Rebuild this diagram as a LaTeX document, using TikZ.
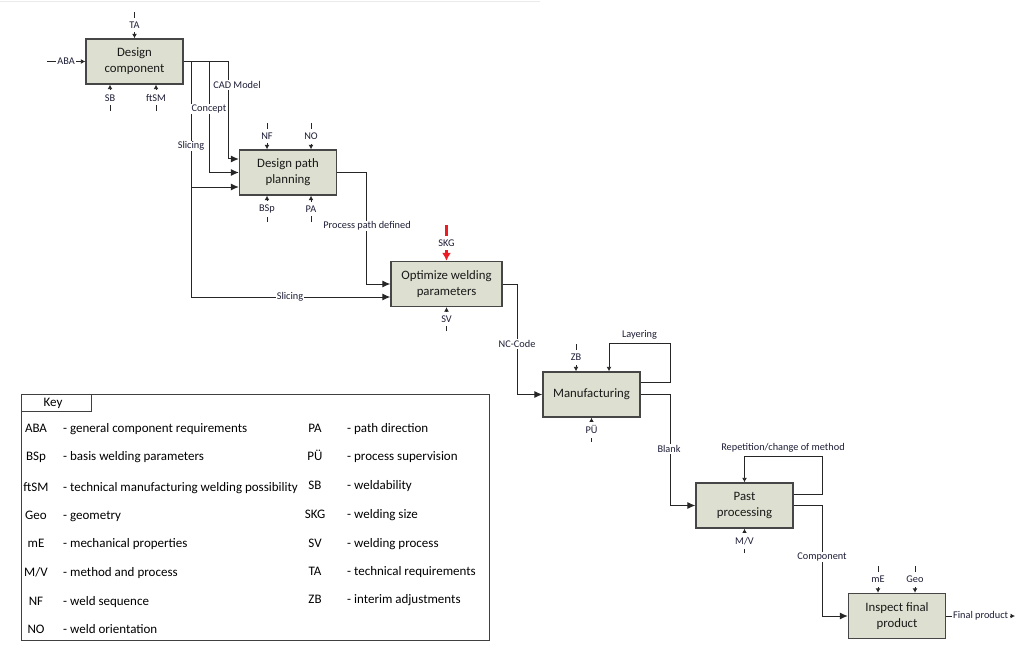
\documentclass[tikz,border=0pt]{standalone}
\usepackage{fontspec}
\setmainfont{Carlito}
\usepackage{tikz}
\usetikzlibrary{arrows.meta,positioning}
\definecolor{boxfill}{RGB}{221,224,208}
\definecolor{boxline}{RGB}{70,70,70}
\definecolor{ink}{RGB}{30,30,55}
\definecolor{skgred}{RGB}{235,28,36}

\begin{document}
\begin{tikzpicture}[x=1pt,y=-1pt,
  proc/.style={draw=boxline,line width=1.4pt,fill=boxfill,minimum width=97pt,minimum height=45pt,
    align=center,inner sep=2pt,text=black!90,font=\fontsize{12.8}{16}\selectfont},
  lbl/.style={font=\fontsize{10.3}{12}\selectfont,text=ink,fill=white,inner sep=1pt},
  clbl/.style={lbl,inner xsep=1.5pt,inner ysep=4pt},
  keytxt/.style={font=\fontsize{13}{15}\selectfont,inner sep=0pt,text height=9pt,text depth=3pt},
  flow/.style={draw=black!85,line width=1pt,-{Latex[length=8pt,width=7pt]}},
  ctrl/.style={draw=black!85,line width=1pt,-{Latex[length=4.5pt,width=5pt]}}]

\useasboundingbox (0,0) rectangle (1024,671);
\draw[black!8] (0,1) -- (540,1);

\node[proc] (dc) at (134.5,61.5) {Design\\component};
\node[proc] (dp) at (288,172.5) {Design path\\planning};
\node[proc,minimum width=111pt] (ow) at (446.5,284) {Optimize welding\\parameters};
\node[proc] (mf) at (591.5,394.5) {Manufacturing};
\node[proc] (pp) at (744.5,505.5) {Past\\processing};
\node[proc] (ip) at (897,616) {Inspect final\\product};

\coordinate (ta) at (134.5,12);
\coordinate (aba) at (47,61.5);
\coordinate (sb) at (110,111);
\coordinate (ftsm) at (156,111);
\draw[ctrl] (ta) -- node[clbl]{TA} (dc.north);
\draw[ctrl] (aba) -- node[clbl]{ABA} (dc.west);
\draw[ctrl] (sb) -- node[clbl]{SB} (sb |- dc.south);
\draw[ctrl] (ftsm) -- node[clbl]{ftSM} (ftsm |- dc.south);

\coordinate (slix) at (191,0);
\coordinate (conx) at (209,0);
\coordinate (cadx) at (228,0);
\draw[flow] (dc.east) -| ([yshift=13.5pt]dp.west -| cadx) -- ([yshift=13.5pt]dp.west);
\draw[flow] (dc.east) -| (conx |- dp.west) -- (dp.west);
\draw[flow] (dc.east) -| ([yshift=-14.5pt]dp.west -| slix) -- ([yshift=-14.5pt]dp.west);
\draw[flow] (slix |- dc.east) |- ([yshift=-13pt]ow.west);
\node[lbl] (lcad) at (237,85) {CAD Model};
\node[lbl] (lcon) at (209,109) {Concept};
\node[lbl] (lsl1) at (191,146) {Slicing};
\node[lbl] (lsl2) at (290,297) {Slicing};

\coordinate (nf) at (267,123);
\coordinate (no) at (311,123);
\coordinate (bsp) at (267,222);
\coordinate (pa) at (311,222);
\draw[ctrl] (nf) -- node[clbl]{NF} (nf |- dp.north);
\draw[ctrl] (no) -- node[clbl]{NO} (no |- dp.north);
\draw[ctrl] (bsp) -- node[clbl]{BSp} (bsp |- dp.south);
\draw[ctrl] (pa) -- node[clbl]{PA} (pa |- dp.south);

\coordinate (ppx) at (366,0);
\draw[flow] (dp.east) -| (ppx |- ow.west) -- (ow.west);
\node[lbl] (lpp) at (367,226) {Process path defined};

\coordinate (skg) at (446.5,225);
\coordinate (sv) at (446.5,331);
\draw[skgred,line width=2.5pt,-{Latex[length=8pt,width=9pt]}] (skg) -- node[clbl]{SKG} (ow.north);
\draw[ctrl] (sv) -- node[clbl]{SV} (ow.south);

\coordinate (ncx) at (517,0);
\draw[flow] (ow.east) -| (ncx |- mf.west) -- (mf.west);
\node[lbl] (lnc) at (517,344) {NC-Code};

\coordinate (zb) at (576,344);
\coordinate (pue) at (591.5,442);
\coordinate (laytop) at (670,343);
\draw[ctrl] (zb) -- node[clbl]{ZB} (zb |- mf.north);
\draw[ctrl] (pue) -- node[clbl]{PÜ} (mf.south);
\draw[ctrl] ([yshift=12.5pt]mf.east) -| (laytop) -| ([xshift=17.5pt]mf.north);
\node[lbl] (llay) at (639.5,335) {Layering};

\coordinate (blx) at (670,0);
\draw[flow] (mf.east) -| (blx |- pp.west) -- (pp.west);
\node[lbl] (lbl1) at (669,449) {Blank};

\coordinate (mv) at (744.5,553);
\coordinate (reptop) at (822,456);
\draw[ctrl] (mv) -- node[clbl]{M/V} (pp.south);
\draw[ctrl] ([yshift=11.5pt]pp.east) -| (reptop) -| (pp.north);
\node[lbl] (lrep) at (783,448) {Repetition/change of method};

\coordinate (cmx) at (822,0);
\draw[flow] (pp.east) -| (cmx |- ip.west) -- (ip.west);
\node[lbl] (lcmp) at (822,557) {Component};

\coordinate (me) at (878,566);
\coordinate (geo) at (915,566);
\coordinate (fp) at (1015,616);
\draw[ctrl] (me) -- node[clbl]{mE} (me |- ip.north);
\draw[ctrl] (geo) -- node[clbl]{Geo} (geo |- ip.north);
\draw[ctrl] (ip.east) -- node[clbl]{Final product} (fp);

\draw[black!75,line width=0.8pt] (21,394) rectangle (489,640);
\draw[black!75,line width=0.8pt] (21,394) rectangle (91,411);
\node[keytxt] (key) at (53,403) {Key};
\foreach \ab/\de/\yy in {ABA/{- general component requirements}/429,
    BSp/{- basis welding parameters}/457,
    ftSM/{- technical manufacturing welding possibility}/488,
    Geo/{- geometry}/516,
    mE/{- mechanical properties}/544,
    {M/V}/{- method and process}/573,
    NF/{- weld sequence}/602,
    NO/{- weld orientation}/630}
  {\node[keytxt] at (36,\yy) {\ab};
   \node[keytxt,anchor=west] at (63,\yy) {\de};}
\foreach \ab/\de/\yy in {PA/{- path direction}/429,
    PÜ/{- process supervision}/457,
    SB/{- weldability}/486,
    SKG/{- welding size}/515,
    SV/{- welding process}/544,
    TA/{- technical requirements}/572,
    ZB/{- interim adjustments}/600}
  {\node[keytxt] at (315,\yy) {\ab};
   \node[keytxt,anchor=west] at (347,\yy) {\de};}
\end{tikzpicture}
\end{document}
